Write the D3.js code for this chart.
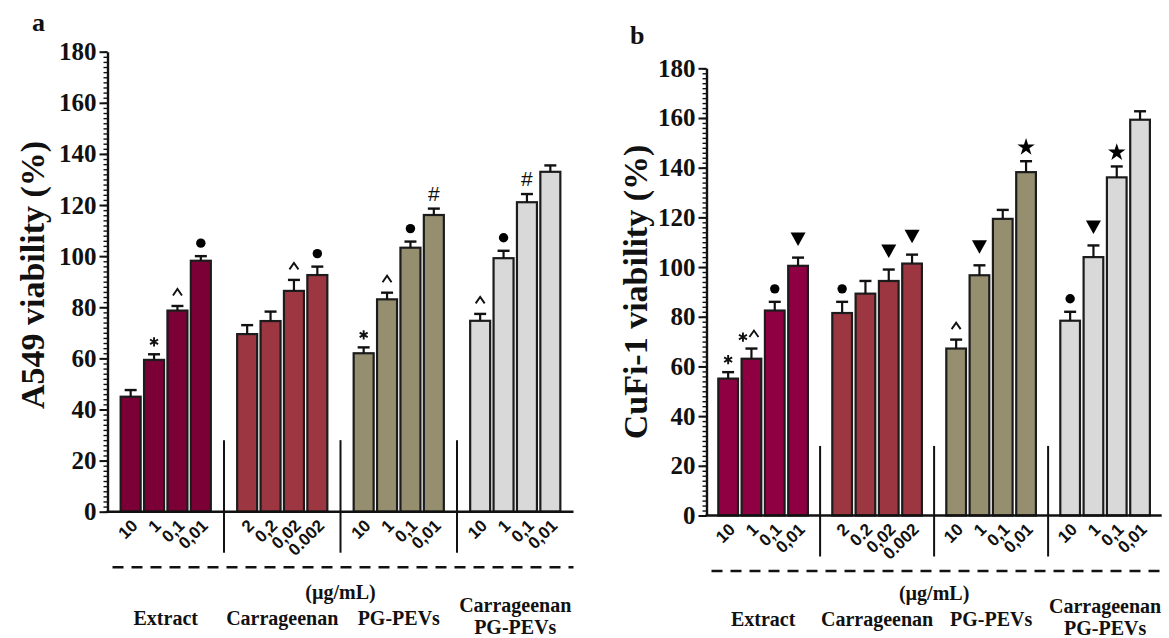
<!DOCTYPE html>
<html>
<head>
<meta charset="utf-8">
<script src="https://cdn.jsdelivr.net/npm/d3@7"></script>
<style>
  body { margin: 0; background: #fff; }
  svg { display: block; }
</style>
</head>
<body>
<svg id="chart" width="1169" height="638"></svg>
<script>
// groups and doses (ug/mL)
const groups = ['Extract', 'Carrageenan', 'PG-PEVs', 'Carrageenan PG-PEVs'];
const doseExtract = ['10', '1', '0,1', '0,01'];
const doseCarrA = ['2', '0,2', '0,02', '0.002'];
const doseCarrB = ['2', '0.2', '0,02', '0.002'];
const dosePev = ['10', '1', '0,1', '0,01'];
const yTicks = [0, 20, 40, 60, 80, 100, 120, 140, 160, 180];

// panel a : A549
const a549Mean = [45.0, 59.4, 78.7, 98.2,   69.5, 74.6, 86.4, 92.6,   62.0, 83.1, 103.3, 116.1,   74.7, 99.2, 121.1, 133.0];
const a549Err  = [2.6, 2.2, 1.8, 1.8,       3.5, 3.7, 4.3, 3.3,       2.3, 2.6, 2.4, 2.5,         2.7, 2.9, 3.2, 2.5];
const a549Mark = ['', '*', '^', 'dot',      '', '', '^', 'dot',       '*', '^', 'dot', '#',       '^', 'dot', '#', ''];

// panel b : CuFi-1
const cufiMean = [55.1, 63.1, 82.5, 100.5,  81.5, 89.3, 94.4, 101.4,  67.2, 96.7, 119.4, 138.2,   78.4, 104.0, 136.1, 159.3];
const cufiErr  = [2.6, 4.1, 3.5, 3.3,       4.5, 5.1, 4.6, 3.6,       3.6, 4.0, 3.6, 4.4,         3.6, 4.7, 4.4, 3.4];
const cufiMark = ['*', '*^', 'dot', 'tri',  'dot', '', 'tri', 'tri',  '^', 'tri', '', 'star',     'dot', 'tri', 'star', ''];

const SERIF = "'Liberation Serif','Times New Roman',serif";
const SANS = "'Liberation Sans',Arial,sans-serif";

const svg = d3.select('#chart');

function drawPanel(cfg) {
  const g = svg.append('g');
  const y = d3.scaleLinear().domain([0, 180]).range([cfg.bottom, cfg.top]);
  const xg = d3.scaleBand().domain(groups).range([cfg.left, cfg.right])
    .paddingInner(cfg.padIn).paddingOuter(cfg.padOut);
  const xb = d3.scaleBand().domain([0, 1, 2, 3]).range([0, xg.bandwidth()]).paddingInner(cfg.barPad);

  const rows = cfg.mean.map((m, i) => ({
    group: groups[Math.floor(i / 4)],
    k: i % 4,
    mean: m,
    err: cfg.err[i],
    mark: cfg.mark[i],
    dose: cfg.doses[Math.floor(i / 4)][i % 4],
    fill: cfg.colors[Math.floor(i / 4)]
  }));
  const cx = d => xg(d.group) + xb(d.k) + xb.bandwidth() / 2;

  // bars
  g.selectAll('rect.bar').data(rows).enter().append('rect')
    .attr('class', 'bar')
    .attr('x', d => xg(d.group) + xb(d.k))
    .attr('y', d => y(d.mean))
    .attr('width', xb.bandwidth())
    .attr('height', d => y(0) - y(d.mean))
    .attr('fill', d => d.fill)
    .attr('stroke', '#1c1c1c')
    .attr('stroke-width', 2.2);

  // error bars (upper only)
  const eb = g.selectAll('g.err').data(rows).enter().append('g').attr('class', 'err');
  eb.append('line')
    .attr('x1', cx).attr('x2', cx)
    .attr('y1', d => y(d.mean)).attr('y2', d => y(d.mean + d.err))
    .attr('stroke', '#111').attr('stroke-width', 2.2);
  eb.append('line')
    .attr('x1', d => cx(d) - 6).attr('x2', d => cx(d) + 6)
    .attr('y1', d => y(d.mean + d.err)).attr('y2', d => y(d.mean + d.err))
    .attr('stroke', '#111').attr('stroke-width', 2.4);

  // significance marks
  const mk = g.selectAll('g.mark').data(rows.filter(d => d.mark)).enter().append('g')
    .attr('class', 'mark')
    .attr('transform', d => `translate(${cx(d)},${y(d.mean + d.err)})`);
  const asterisk = d3.symbol().type(d3.symbolAsterisk).size(60);
  mk.each(function(d) {
    const s = d3.select(this);
    if (d.mark === '*') {
      s.append('path').attr('d', asterisk).attr('transform', 'translate(0,-12.5)')
        .attr('fill', 'none').attr('stroke', '#111').attr('stroke-width', 1.9);
    } else if (d.mark === '^') {
      s.append('path').attr('d', 'M-4.5,-10.5L0,-17L4.5,-10.5')
        .attr('fill', 'none').attr('stroke', '#111').attr('stroke-width', 1.9);
    } else if (d.mark === '*^') {
      s.append('path').attr('d', asterisk).attr('transform', 'translate(-8.5,-11.5)')
        .attr('fill', 'none').attr('stroke', '#111').attr('stroke-width', 1.9);
      s.append('path').attr('d', 'M-2,-11.5L2.5,-18L7,-11.5')
        .attr('fill', 'none').attr('stroke', '#111').attr('stroke-width', 1.9);
    } else if (d.mark === 'dot') {
      s.append('circle').attr('cx', 0).attr('cy', -13).attr('r', 4.7).attr('fill', '#000');
    } else if (d.mark === '#') {
      s.append('text').attr('y', -8).attr('text-anchor', 'middle')
        .attr('font-family', SANS).attr('font-size', 21).attr('fill', '#111').text('#');
    } else if (d.mark === 'tri') {
      s.append('path').attr('d', 'M-7.5,-25L7.5,-25L0,-11.5Z').attr('fill', '#000');
    } else if (d.mark === 'star') {
      s.append('path').attr('d', d3.symbol().type(d3.symbolStar).size(95))
        .attr('transform', 'translate(0,-14)').attr('fill', '#000');
    }
  });

  // y axis: minor then major ticks
  const minor = d3.range(0, 181, 2);
  g.append('g').attr('transform', `translate(${cfg.left},0)`)
    .call(d3.axisLeft(y).tickValues(minor).tickSize(4).tickSizeOuter(0).tickFormat(''))
    .call(a => a.select('.domain').remove())
    .call(a => a.selectAll('line').attr('stroke', '#111').attr('stroke-width', 1.4));
  g.append('g').attr('transform', `translate(${cfg.left},0)`)
    .call(d3.axisLeft(y).tickValues(yTicks).tickSize(8).tickSizeOuter(0).tickPadding(3))
    .call(a => a.select('.domain').attr('stroke', '#111').attr('stroke-width', 2.4))
    .call(a => a.selectAll('line').attr('stroke', '#111').attr('stroke-width', 2))
    .call(a => a.selectAll('text').attr('font-family', SERIF).attr('font-weight', 'bold')
      .attr('font-size', 25).attr('fill', '#111'));

  // baseline
  g.append('line')
    .attr('x1', cfg.left - 1).attr('x2', cfg.right)
    .attr('y1', y(0)).attr('y2', y(0))
    .attr('stroke', '#111').attr('stroke-width', 2.4);

  // dose labels
  g.selectAll('text.dose').data(rows).enter().append('text')
    .attr('class', 'dose')
    .attr('transform', d => `translate(${cx(d) + 8},${y(0) + 15}) rotate(-45)`)
    .attr('text-anchor', 'end')
    .attr('font-family', SANS).attr('font-weight', 'bold').attr('font-size', 17)
    .attr('fill', '#111')
    .text(d => d.dose);

  // group separators
  const sepX = groups.slice(1).map(gr => xg(gr) - xg.step() * cfg.padIn / 2);
  g.selectAll('line.sep').data(sepX).enter().append('line')
    .attr('class', 'sep')
    .attr('x1', d => d).attr('x2', d => d)
    .attr('y1', y(28)).attr('y2', y(0) + 41)
    .attr('stroke', '#111').attr('stroke-width', 2);

  // dashed line
  g.append('line')
    .attr('x1', cfg.left + 5).attr('x2', cfg.right)
    .attr('y1', y(0) + 55.5).attr('y2', y(0) + 55.5)
    .attr('stroke', '#111').attr('stroke-width', 2.6)
    .attr('stroke-dasharray', '11,8');

  // unit + group names (same height in both panels)
  const tb = cfg.textBase;
  g.append('text')
    .attr('x', sepX[1]).attr('y', tb + 87)
    .attr('text-anchor', 'middle')
    .attr('font-family', SERIF).attr('font-weight', 'bold').attr('font-size', 20).attr('fill', '#111')
    .text('(\u00b5g/mL)');
  groups.forEach(gr => {
    const gx = xg(gr) + xg.bandwidth() / 2;
    const t = g.append('text').attr('text-anchor', 'middle')
      .attr('font-family', SERIF).attr('font-weight', 'bold').attr('font-size', 20).attr('fill', '#111');
    if (gr === 'Carrageenan PG-PEVs') {
      t.append('tspan').attr('x', gx).attr('y', tb + 100).text('Carrageenan');
      t.append('tspan').attr('x', gx).attr('y', tb + 122).text('PG-PEVs');
    } else {
      t.attr('x', gx).attr('y', tb + 113).text(gr);
    }
  });

  // y title and panel letter
  g.append('text')
    .attr('transform', `translate(${cfg.titleX},${cfg.titleY}) rotate(-90)`)
    .attr('text-anchor', 'middle')
    .attr('font-family', SERIF).attr('font-weight', 'bold').attr('font-size', 34).attr('fill', '#111')
    .text(cfg.title);
  g.append('text')
    .attr('x', cfg.letterX).attr('y', cfg.letterY)
    .attr('font-family', SERIF).attr('font-weight', 'bold').attr('font-size', 26).attr('fill', '#111')
    .text(cfg.letter);
}

drawPanel({
  left: 107.5, right: 573.5, top: 51.7, bottom: 511.7, textBase: 511.7,
  padIn: 0.226, padOut: 0.113, barPad: 0.145,
  mean: a549Mean, err: a549Err, mark: a549Mark,
  doses: [doseExtract, doseCarrA, dosePev, dosePev],
  colors: ['#7b0036', '#9c3640', '#958f70', '#d9d9d9'],
  title: 'A549 viability (%)', titleX: 44, titleY: 275,
  letter: 'a', letterX: 32, letterY: 31
});

drawPanel({
  left: 706.5, right: 1161.7, top: 68.3, bottom: 515.5, textBase: 512.5,
  padIn: 0.214, padOut: 0.1035, barPad: 0.155,
  mean: cufiMean, err: cufiErr, mark: cufiMark,
  doses: [doseExtract, doseCarrB, dosePev, dosePev],
  colors: ['#8f0042', '#9c3640', '#958f70', '#d9d9d9'],
  title: 'CuFi-1 viability (%)', titleX: 647, titleY: 292,
  letter: 'b', letterX: 630, letterY: 44
});
</script>
</body>
</html>
